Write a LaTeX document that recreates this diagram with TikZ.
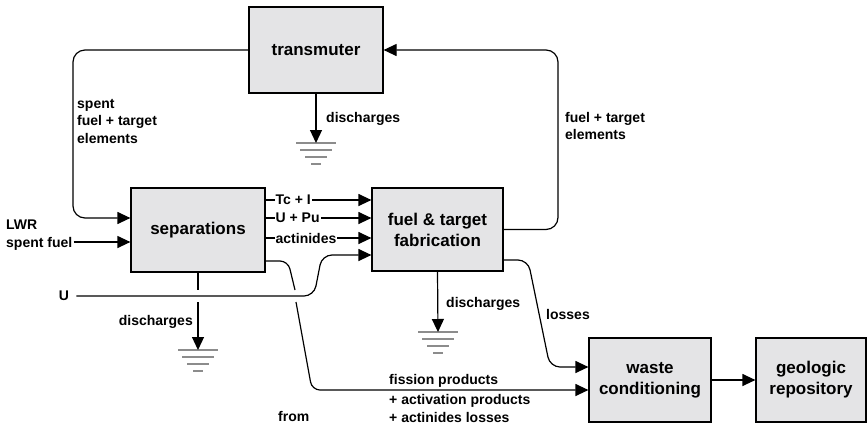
\documentclass[tikz,border=0pt]{standalone}
\usepackage{fontspec}
\setmainfont{Liberation Sans}
\usepackage{tikz}
\usepackage{xcolor}
\usetikzlibrary{arrows.meta}

\definecolor{boxgray}{HTML}{E4E4E6}
\definecolor{gndgray}{HTML}{8C8C8C}

\tikzset{
  proc/.style={draw, fill=boxgray, line width=1.2pt, align=center, inner sep=0pt,
    font=\bfseries\fontsize{17}{21}\selectfont},
  lbl/.style={font=\bfseries\fontsize{14}{17.5}\selectfont, align=left, inner sep=1pt},
  tag/.style={lbl, anchor=west, fill=white},
  flow/.style={line width=1.2pt, -{Triangle[length=13pt,width=12pt]}},
  pipe/.style={line width=1.2pt},
  earth/.pic={\draw[gndgray, line width=1.5pt] (-20,0) -- (20,0) (-16,7) -- (16,7)
    (-11,14) -- (11,14) (-5,21) -- (5,21);}
}

\begin{document}
\begin{tikzpicture}[x=1pt,y=-1pt]
  \useasboundingbox (0,0) rectangle (868,424);

  % process boxes
  \node[proc, minimum width=134pt, minimum height=86pt] (trans) at (316,50) {transmuter};
  \node[proc, minimum width=134pt, minimum height=84pt] (sep) at (198,230) {separations};
  \node[proc, minimum width=131pt, minimum height=83pt] (fab) at (437.5,229.5) {fuel \& target\\fabrication};
  \node[proc, minimum width=122pt, minimum height=84pt] (waste) at (650,380) {waste\\conditioning};
  \node[proc, minimum width=110pt, minimum height=84pt] (geo) at (811,380) {geologic\\repository};

  % grounds and helper points
  \pic at (316,143) {earth}; \coordinate (g1) at (316,143);
  \pic at (198,350) {earth}; \coordinate (g2) at (198,350);
  \pic at (438,332) {earth}; \coordinate (g3) at (438,332);
  \coordinate (lf) at (73,0);
  \coordinate (rt) at (558,0);
  \coordinate (s1) at (198,290);
  \coordinate (s2) at (198,302);
  \coordinate (f1) at (295,290);
  \coordinate (f2) at (296,302);

  % recycle loop
  \draw[flow, rounded corners=12pt] (trans.west) -- (trans.west -| lf) -- (lf |- 0,218) -- (sep.west |- 0,218);
  \draw[flow, rounded corners=12pt] (fab.east) -- (fab.east -| rt) -- (trans.east -| rt) -- (trans.east);
  \node[lbl, anchor=north west] (spent) at (76,98) {spent\\fuel + target\\elements};
  \node[lbl, anchor=north west] (fresh) at (564,111) {fuel + target\\elements};

  % feeds
  \node[lbl, anchor=north west] (lwr) at (5,219) {LWR\\spent fuel};
  \draw[flow] (lwr.east |- 0,242) -- (sep.west |- 0,242);
  \node[lbl] (u) at (64,296) {U};
  \draw[flow, rounded corners=10pt, shorten <=6pt] (u.east) -- (314,296) -- (322,255) -- (fab.west |- 0,255);

  % separations products
  \draw[flow] (sep.east |- 0,200) -- node[tag, pos=0.08] {Tc + I} (fab.west |- 0,200);
  \draw[flow] (sep.east |- 0,218) -- node[tag, pos=0.08] {U + Pu} (fab.west |- 0,218);
  \draw[flow] (sep.east |- 0,238) -- node[tag, pos=0.08] {actinides} (fab.west |- 0,238);
  \draw[pipe, rounded corners=8pt] (sep.east |- 0,261) -- (288,261) -- (f1);
  \draw[flow, rounded corners=8pt] (f2) -- (312,390) -- (waste.west |- 0,390);
  \node[lbl, anchor=south west] (fiss) at (388,424) {fission products\\[2pt]+ activation products\\[1pt]+ actinides losses};
  \node[lbl, anchor=south west] (from) at (277,423) {from};

  % discharges
  \draw[flow] (trans.south) -- (g1);
  \node[lbl, anchor=west] (d1) at (325,119) {discharges};
  \draw[pipe] (sep.south) -- (s1);
  \draw[flow] (s2) -- (g2);
  \node[lbl, anchor=east] (d2) at (194,322) {discharges};
  \draw[flow] (fab.south) -- (g3);
  \node[lbl, anchor=west] (d3) at (445,304) {discharges};

  % waste path
  \draw[flow, rounded corners=10pt] (fab.east |- 0,260) -- (528,260) -- (550,367) -- (waste.west |- 0,367);
  \node[lbl, anchor=west] (loss) at (545,314) {losses};
  \draw[flow] (waste.east) -- (geo.west);
\end{tikzpicture}
\end{document}
